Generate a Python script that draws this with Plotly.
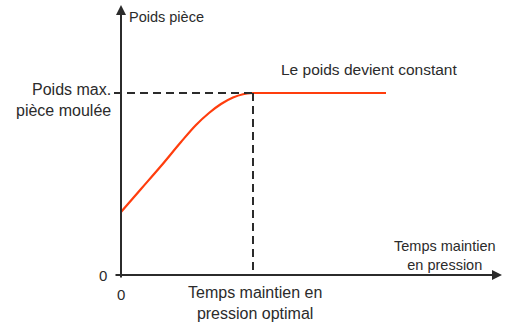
import plotly.graph_objects as go

# Weight vs. holding-pressure time (arbitrary units)
rise_time = [0, 20, 40, 60, 75, 88, 100, 112, 122, 132]
rise_weight = [63, 86, 109, 133, 150, 162, 171, 177.5, 180.8, 182]
plateau_time = [132, 265]
plateau_weight = [182, 182]

t_optimal = 132
w_max = 182
x_end = 381
y_end = 270

FONT = "Liberation Sans, Arial, sans-serif"
INK = "#2b2b2b"
CURVE = "#FF3D0D"

W, H = 524, 335
ML, MR, MT, MB = 113, 22, 5, 56

fig = go.Figure()

fig.add_trace(go.Scatter(
    x=rise_time, y=rise_weight, mode="lines",
    line=dict(color=CURVE, width=2.2, shape="spline", smoothing=1),
    hoverinfo="skip", showlegend=False,
))
fig.add_trace(go.Scatter(
    x=plateau_time, y=plateau_weight, mode="lines",
    line=dict(color=CURVE, width=2.2),
    hoverinfo="skip", showlegend=False,
))

# dashed guide lines to the plateau point
fig.add_shape(type="line", x0=-7, y0=w_max, x1=t_optimal, y1=w_max,
              line=dict(color=INK, width=2, dash="8px,5px"))
fig.add_shape(type="line", x0=t_optimal, y0=w_max, x1=t_optimal, y1=0,
              line=dict(color=INK, width=2, dash="8px,5px"))

# axes with arrows
fig.add_annotation(x=x_end, y=0, ax=-7, ay=0, axref="x", ayref="y",
                   xref="x", yref="y", text="", showarrow=True,
                   arrowhead=2, arrowsize=1, arrowwidth=2, arrowcolor=INK)
fig.add_annotation(x=0, y=y_end, ax=0, ay=-4, axref="x", ayref="y",
                   xref="x", yref="y", text="", showarrow=True,
                   arrowhead=2, arrowsize=1, arrowwidth=2, arrowcolor=INK)


def label(px, py, text, size, xanchor="center", align="center"):
    # place text by page position (paper coordinates)
    fig.add_annotation(x=(px - ML) / (W - ML - MR), y=(H - MB - py) / (H - MT - MB),
                       xref="paper", yref="paper", text=text,
                       showarrow=False, xanchor=xanchor, yanchor="middle",
                       align=align, font=dict(family=FONT, size=size, color=INK))


label(127, 17, "Poids pièce", 14.5, xanchor="left")
label(113, 100, "Poids max.<br>pièce moulée", 16, xanchor="right", align="right")
label(369, 69, "Le poids devient constant", 15.5)
label(103, 275, "0", 15)
label(121, 294, "0", 15)
label(255, 303, "Temps maintien en<br>pression optimal", 16)
label(445, 255, "Temps maintien<br>en pression", 14.5)

fig.update_xaxes(range=[-8, x_end], visible=False, fixedrange=True)
fig.update_yaxes(range=[-4, y_end], visible=False, fixedrange=True)
fig.update_layout(
    width=W, height=H,
    margin=dict(l=ML, r=MR, t=MT, b=MB),
    paper_bgcolor="white", plot_bgcolor="white",
    showlegend=False,
)

fig.write_html("out.html")
